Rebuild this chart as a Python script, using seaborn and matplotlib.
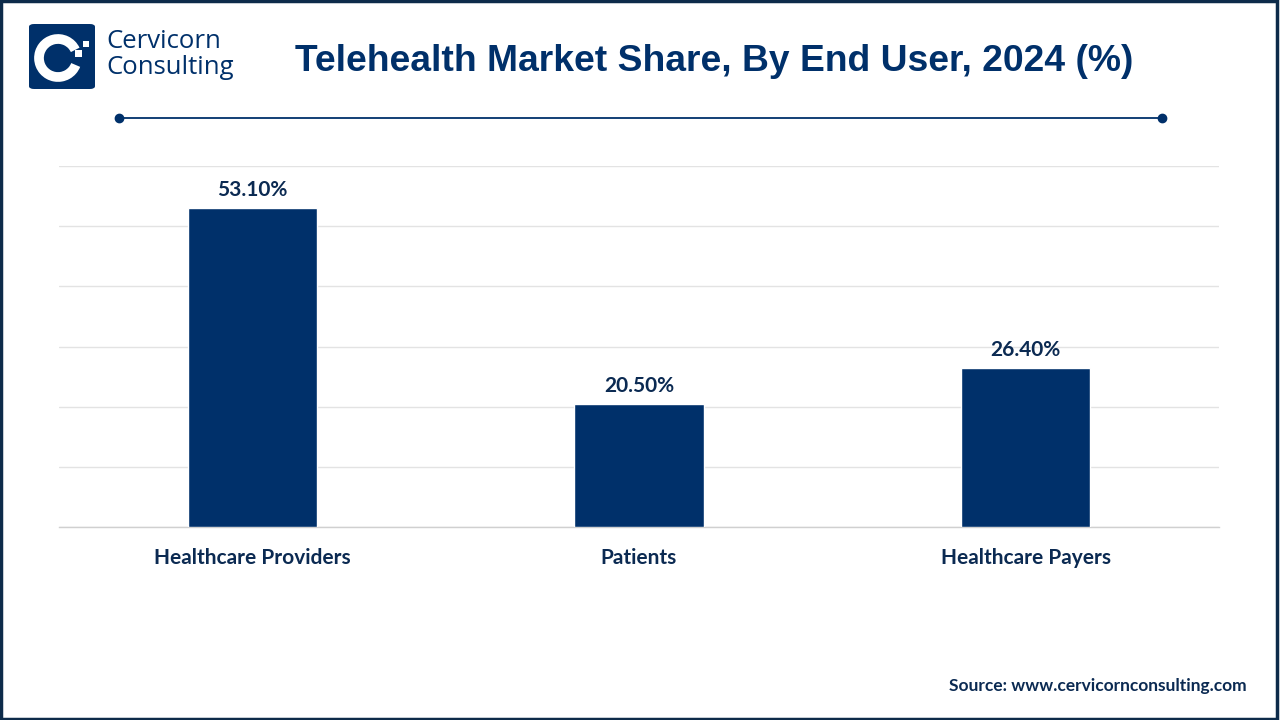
import matplotlib
matplotlib.use("Agg")
import matplotlib.pyplot as plt
import seaborn as sns
import pandas as pd
from matplotlib.patches import FancyBboxPatch, Arc, Rectangle
from matplotlib.lines import Line2D

# data
segments = ["Healthcare Providers", "Patients", "Healthcare Payers"]
shares = [53.10, 20.50, 26.40]

NAVY = "#00306a"
TEXT = "#0b2a52"

sns.set_theme(style="white")
plt.rcParams["font.family"] = ["Lato", "DejaVu Sans"]

df = pd.DataFrame({"segment": segments, "share": shares})

fig = plt.figure(figsize=(12.8, 7.2), dpi=100)
ax = fig.add_axes([0.0461, 0.268, 0.9062, 0.5013])

sns.barplot(data=df, x="segment", y="share", color=NAVY, width=0.334,
            saturation=1, ax=ax, zorder=3)

ax.set_ylim(0, 60)
ax.set_xlim(-0.5, 2.5)
ax.set_yticks(range(0, 61, 10))
ax.yaxis.grid(True, color="#e3e3e3", linewidth=1)
ax.set_yticklabels([])
ax.tick_params(axis="y", length=0)
ax.tick_params(axis="x", length=0, pad=15)
for lab in ax.get_xticklabels():
    lab.set_fontsize(15)
    lab.set_fontweight("bold")
    lab.set_color(TEXT)
ax.set_xlabel("")
ax.set_ylabel("")
for s in ["top", "right", "left"]:
    ax.spines[s].set_visible(False)
ax.spines["bottom"].set_color("#d0d0d0")
ax.spines["bottom"].set_linewidth(1)

for i, v in enumerate(shares):
    ax.text(i, v + 1.3, f"{v:.2f}%", ha="center", va="bottom",
            fontsize=15, fontweight="bold", color=TEXT)

# title
fig.text(0.558, 0.914, "Telehealth Market Share, By End User, 2024 (%)",
         ha="center", va="center", fontsize=26.8, fontweight="bold",
         color=NAVY, family="Liberation Sans")

# divider line with end dots
fig.add_artist(Line2D([119 / 1280, 1162 / 1280], [1 - 118 / 720] * 2,
                      transform=fig.transFigure, color=NAVY, lw=1.3))
fig.add_artist(Line2D([119 / 1280, 1162 / 1280], [1 - 118 / 720] * 2,
                      transform=fig.transFigure, color=NAVY, lw=0,
                      marker="o", markersize=6))

# logo
fig.add_artist(FancyBboxPatch((29 / 1280, 1 - 89 / 720), 66 / 1280, 65 / 720,
                              boxstyle="round,pad=0,rounding_size=0.004",
                              transform=fig.transFigure, fc=NAVY, ec="none"))
fig.add_artist(Arc((58 / 1280, 1 - 58 / 720), 38 / 1280, 38 / 720,
                   theta1=40, theta2=325, transform=fig.transFigure,
                   color="white", lw=7))
fig.add_artist(Rectangle((75 / 1280, 1 - 57 / 720), 7 / 1280, 7 / 720,
                         transform=fig.transFigure, fc="white", ec="none"))
fig.add_artist(Rectangle((83 / 1280, 1 - 47 / 720), 6 / 1280, 6 / 720,
                         transform=fig.transFigure, fc="white", ec="none"))
fig.text(106 / 1280, 1 - 42 / 720, "Cervicorn", ha="left", va="center",
         fontsize=18.5, color=NAVY, family="Open Sans")
fig.text(106 / 1280, 1 - 67 / 720, "Consulting", ha="left", va="center",
         fontsize=18.5, color=NAVY, family="Open Sans")

# source
fig.text(1247 / 1280, 1 - 686 / 720, "Source: www.cervicornconsulting.com",
         ha="right", va="center", fontsize=12.5, fontweight="bold", color=TEXT)

# outer border
fig.add_artist(Rectangle((0.001, 0.002), 0.997, 0.996, transform=fig.transFigure,
                         fill=False, ec="#0d2b4a", lw=2.5))

fig.savefig("out.png", dpi=100)
